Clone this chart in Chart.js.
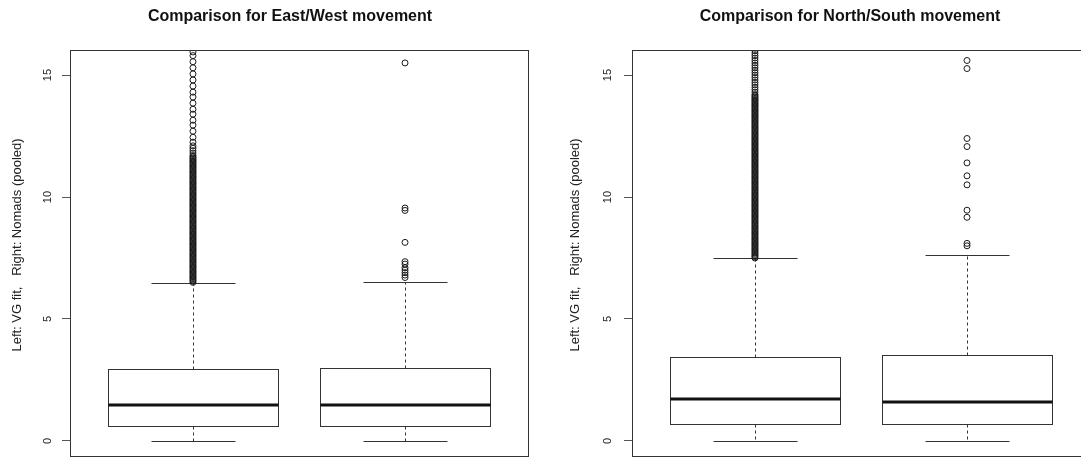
<!DOCTYPE html>
<html>
<head>
<meta charset="utf-8">
<script src="https://cdn.jsdelivr.net/npm/chart.js@4.4.0/dist/chart.umd.min.js"></script>
<style>
  html, body { margin: 0; padding: 0; background: #fff; overflow: hidden; width: 1081px; height: 457px; }
  #wrap { position: relative; width: 1081px; height: 457px; }
  #c1 { position: absolute; left: 0; top: 0; }
  #c2 { position: absolute; left: 540px; top: 0; }
</style>
</head>
<body>
<div id="wrap">
  <canvas id="c1" width="540" height="457"></canvas>
  <canvas id="c2" width="560" height="457"></canvas>
</div>
<script>
// groups: box 1 = VG fit, box 2 = Nomads (pooled)
const groupPos = [1, 2];
const yTicks = [0, 5, 10, 15];
const yLabel = 'Left: VG fit,   Right: Nomads (pooled)';

// East/West movement
const ewLow = [0, 0];
const ewQ1 = [0.63, 0.63];
const ewMed = [1.49, 1.49];
const ewQ3 = [2.93, 3.0];
const ewHigh = [6.49, 6.53];
const ewOutVG = [
  6.5, 6.55, 6.6, 6.65, 6.7, 6.75, 6.8, 6.85, 6.9, 6.95,
  7.0, 7.05, 7.1, 7.15, 7.2, 7.25, 7.3, 7.35, 7.4, 7.45, 7.5, 7.55, 7.6, 7.65, 7.7, 7.75, 7.8, 7.85, 7.9, 7.95,
  8.0, 8.05, 8.1, 8.15, 8.2, 8.25, 8.3, 8.35, 8.4, 8.45, 8.5, 8.55, 8.6, 8.65, 8.7, 8.75, 8.8, 8.85, 8.9, 8.95,
  9.0, 9.05, 9.1, 9.15, 9.2, 9.25, 9.3, 9.35, 9.4, 9.45, 9.5, 9.55, 9.6, 9.65, 9.7, 9.75, 9.8, 9.85, 9.9, 9.95,
  10.0, 10.05, 10.1, 10.15, 10.2, 10.25, 10.3, 10.35, 10.4, 10.45, 10.5, 10.55, 10.6, 10.65, 10.7, 10.75, 10.8, 10.85, 10.9, 10.95,
  11.0, 11.05, 11.1, 11.15, 11.2, 11.25, 11.3, 11.35, 11.4, 11.45, 11.5, 11.55, 11.6, 11.65, 11.7, 11.8, 11.9, 12.0, 12.1, 12.25,
  12.45, 12.7, 12.95, 13.15, 13.4, 13.6, 13.85, 14.1, 14.3, 14.55, 14.8, 15.05, 15.3, 15.55, 15.8, 15.95];
const ewOutNomads = [6.7, 6.8, 6.9, 7.0, 7.1, 7.25, 7.35, 8.14, 9.45, 9.55, 15.5];

// North/South movement
const nsLow = [0, 0];
const nsQ1 = [0.7, 0.7];
const nsMed = [1.73, 1.59];
const nsQ3 = [3.43, 3.51];
const nsHigh = [7.5, 7.63];
const nsOutVG = [
  7.5, 7.55, 7.6, 7.65, 7.7, 7.75, 7.8, 7.85, 7.9, 7.95,
  8.0, 8.05, 8.1, 8.15, 8.2, 8.25, 8.3, 8.35, 8.4, 8.45, 8.5, 8.55, 8.6, 8.65, 8.7, 8.75, 8.8, 8.85, 8.9, 8.95,
  9.0, 9.05, 9.1, 9.15, 9.2, 9.25, 9.3, 9.35, 9.4, 9.45, 9.5, 9.55, 9.6, 9.65, 9.7, 9.75, 9.8, 9.85, 9.9, 9.95,
  10.0, 10.05, 10.1, 10.15, 10.2, 10.25, 10.3, 10.35, 10.4, 10.45, 10.5, 10.55, 10.6, 10.65, 10.7, 10.75, 10.8, 10.85, 10.9, 10.95,
  11.0, 11.05, 11.1, 11.15, 11.2, 11.25, 11.3, 11.35, 11.4, 11.45, 11.5, 11.55, 11.6, 11.65, 11.7, 11.75, 11.8, 11.85, 11.9, 11.95,
  12.0, 12.05, 12.1, 12.15, 12.2, 12.25, 12.3, 12.35, 12.4, 12.45, 12.5, 12.55, 12.6, 12.65, 12.7, 12.75, 12.8, 12.85, 12.9, 12.95,
  13.0, 13.05, 13.1, 13.15, 13.2, 13.25, 13.3, 13.35, 13.4, 13.45, 13.5, 13.55, 13.6, 13.65, 13.7, 13.75, 13.8, 13.85, 13.9, 13.95,
  14.0, 14.05, 14.1, 14.15, 14.2, 14.3, 14.4, 14.5, 14.6, 14.7, 14.8, 14.9, 15.0, 15.1, 15.2, 15.3,
  15.4, 15.5, 15.6, 15.7, 15.8, 15.9, 16.0, 16.1, 16.2, 16.3];
const nsOutNomads = [8.0, 8.1, 9.17, 9.46, 10.5, 10.87, 11.4, 12.07, 12.4, 15.27, 15.6];

const FONT = "'Liberation Sans', Arial, sans-serif";

// draws frame, boxes, whiskers and medians from the stats via the chart's scales
const boxPlugin = {
  id: 'boxes',
  beforeDatasetsDraw(chart, args, opts) {
    const { ctx, scales: { x, y } } = chart;
    const s = opts.stats;
    ctx.save();
    for (let i = 0; i < groupPos.length; i++) {
      const p = groupPos[i];
      const xl = Math.round(x.getPixelForValue(p - 0.4)) + 0.5;
      const xr = Math.round(x.getPixelForValue(p + 0.4)) + 0.5;
      const xc = Math.round(x.getPixelForValue(p)) + 0.5;
      const cl = Math.round(x.getPixelForValue(p - 0.2)) + 0.5;
      const cr = Math.round(x.getPixelForValue(p + 0.2)) + 0.5;
      const py = v => Math.round(y.getPixelForValue(v)) + 0.5;
      ctx.strokeStyle = '#333';
      ctx.lineWidth = 1;
      // whiskers (dashed)
      ctx.setLineDash([3, 3]);
      ctx.beginPath();
      ctx.moveTo(xc, py(s.q3[i])); ctx.lineTo(xc, py(s.high[i]));
      ctx.moveTo(xc, py(s.q1[i])); ctx.lineTo(xc, py(s.low[i]));
      ctx.stroke();
      ctx.setLineDash([]);
      // staples
      ctx.beginPath();
      ctx.moveTo(cl, py(s.high[i])); ctx.lineTo(cr, py(s.high[i]));
      ctx.moveTo(cl, py(s.low[i])); ctx.lineTo(cr, py(s.low[i]));
      ctx.stroke();
      // box
      ctx.strokeRect(xl, py(s.q3[i]), xr - xl, py(s.q1[i]) - py(s.q3[i]));
      // median
      ctx.lineWidth = 3;
      ctx.strokeStyle = '#111';
      ctx.beginPath();
      ctx.moveTo(xl, Math.round(y.getPixelForValue(s.med[i])));
      ctx.lineTo(xr, Math.round(y.getPixelForValue(s.med[i])));
      ctx.stroke();
    }
    ctx.restore();
  },
  afterDraw(chart, args, opts) {
    const { ctx, chartArea: a } = chart;
    ctx.save();
    // frame
    ctx.strokeStyle = '#333';
    ctx.lineWidth = 1;
    ctx.strokeRect(Math.round(a.left) + 0.5, Math.round(a.top) + 0.5,
      Math.round(a.right - a.left), Math.round(a.bottom - a.top));
    // title
    ctx.fillStyle = '#111';
    ctx.font = 'bold 16px ' + FONT;
    ctx.textAlign = 'center';
    ctx.textBaseline = 'middle';
    ctx.fillText(opts.title, opts.titleX, 17);
    // y axis title
    ctx.font = '13px ' + FONT;
    ctx.fillStyle = '#222';
    ctx.translate(opts.labelX, (a.top + a.bottom) / 2 - 8);
    ctx.rotate(-Math.PI / 2);
    ctx.fillText(yLabel, 0, 0);
    ctx.restore();
  }
};

function makeChart(id, stats, outVG, outNomads, yWidth, padRight, tickPad, title, titleX, labelX) {
  const pts = outVG.map(v => ({ x: groupPos[0], y: v }))
    .concat(outNomads.map(v => ({ x: groupPos[1], y: v })));
  return new Chart(document.getElementById(id), {
    type: 'scatter',
    data: {
      datasets: [{
        data: pts,
        pointStyle: 'circle',
        pointRadius: 3,
        pointBorderWidth: 1,
        pointBorderColor: '#1a1a1a',
        pointBackgroundColor: 'rgba(0,0,0,0)'
      }]
    },
    options: {
      responsive: false,
      animation: false,
      events: [],
      layout: { autoPadding: false, padding: { left: 0, top: 50, right: padRight, bottom: 1 } },
      plugins: {
        legend: { display: false },
        tooltip: { enabled: false },
        boxes: { stats, title, titleX, labelX }
      },
      scales: {
        x: { type: 'linear', min: 0.42, max: 2.58, display: false },
        y: {
          type: 'linear',
          min: -0.62,
          max: 16.03,
          afterBuildTicks: s => { s.ticks = yTicks.map(v => ({ value: v })); },
          afterFit: s => { s.width = yWidth; s.paddingTop = 0; s.paddingBottom = 0; },
          border: { display: false },
          grid: { drawOnChartArea: false, drawTicks: true, tickLength: 8, tickColor: '#555' },
          ticks: {
            minRotation: 90,
            maxRotation: 90,
            crossAlign: 'center',
            padding: tickPad,
            color: '#222',
            font: { family: FONT, size: 11 }
          }
        }
      }
    },
    plugins: [boxPlugin]
  });
}

makeChart('c1',
  { low: ewLow, q1: ewQ1, med: ewMed, q3: ewQ3, high: ewHigh },
  ewOutVG, ewOutNomads, 70, 12, 8,
  'Comparison for East/West movement', 290, 17);

makeChart('c2',
  { low: nsLow, q1: nsQ1, med: nsMed, q3: nsQ3, high: nsHigh },
  nsOutVG, nsOutNomads, 92, 10, 10,
  'Comparison for North/South movement', 310, 35);
</script>
</body>
</html>
